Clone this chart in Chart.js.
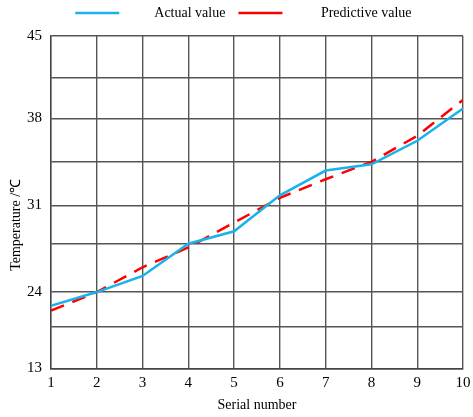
<!DOCTYPE html>
<html>
<head>
<meta charset="utf-8">
<script src="https://cdn.jsdelivr.net/npm/chart.js@4"></script>
<style>
  html, body { margin: 0; padding: 0; background: #fff; }
  #wrap { width: 473px; height: 417px; }
</style>
</head>
<body>
<div id="wrap"><canvas id="myChart"></canvas></div>
<script>
// values
const serial = [1, 2, 3, 4, 5, 6, 7, 8, 9, 10];
const actual = [22.9, 24.0, 25.3, 27.9, 28.9, 31.8, 33.8, 34.3, 36.2, 38.8];
const predicted = [22.5, 24.0, 26.0, 27.6, 29.6, 31.6, 33.1, 34.5, 36.6, 39.5];

// the original axis is not evenly spaced: gridlines and the labels printed on them
const yGrid = [17.86, 21.2, 24, 27.9, 31, 34.5, 38, 41.3, 44.65];
const yLabels = ['13', '', '24', '', '31', '', '38', '', '45'];

const serif = 'Liberation Serif, Times New Roman, serif';
const gridColor = '#555';

// leave some room under the legend
const legendGap = {
  id: 'legendGap',
  beforeInit(chart) {
    const fit = chart.legend.fit;
    chart.legend.fit = function () {
      fit.bind(chart.legend)();
      this.height += 6;
    };
  }
};

window.addEventListener('load', setup);

function setup() {
  const ctx = document.getElementById('myChart').getContext('2d');
  new Chart(ctx, {
    type: 'line',
    data: {
      datasets: [
        {
          label: 'Actual value',
          data: serial.map((s, i) => ({ x: s, y: actual[i] })),
          borderColor: '#19b2ea',
          backgroundColor: '#19b2ea',
          borderWidth: 2.5,
          pointRadius: 0,
          fill: false,
          tension: 0
        },
        {
          label: 'Predictive value',
          data: serial.map((s, i) => ({ x: s, y: predicted[i] })),
          borderColor: '#ff0000',
          backgroundColor: '#ff0000',
          borderWidth: 2.5,
          borderDash: [14, 9],
          pointRadius: 0,
          fill: false,
          tension: 0
        }
      ]
    },
    plugins: [legendGap],
    options: {
      responsive: true,
      maintainAspectRatio: false,
      animation: false,
      layout: { padding: { left: 0, right: 10, top: 0, bottom: 0 } },
      plugins: {
        tooltip: { enabled: false },
        legend: {
          position: 'top',
          align: 'end',
          labels: {
            usePointStyle: true,
            pointStyle: 'line',
            pointStyleWidth: 44,
            padding: 6,
            color: '#000',
            font: { family: serif, size: 14 },
            generateLabels(chart) {
              const items = Chart.defaults.plugins.legend.labels.generateLabels(chart);
              const before = ['        ', '         '];
              const after = ['  ', '             '];
              items.forEach((it, i) => { it.text = before[i] + it.text + after[i]; });
              return items;
            }
          }
        }
      },
      scales: {
        x: {
          type: 'linear',
          min: 1,
          max: 10,
          afterFit(scale) {
            scale.paddingLeft = 0;
            scale.paddingRight = 0;
          },
          ticks: {
            stepSize: 1,
            color: '#000',
            padding: 7,
            font: { family: serif, size: 15, lineHeight: 1 }
          },
          grid: { color: gridColor, lineWidth: 1.4, drawTicks: false },
          border: { color: '#444', width: 1.4 },
          title: {
            display: true,
            text: 'Serial number',
            color: '#000',
            font: { family: serif, size: 14 },
            padding: { top: 0, bottom: 3 }
          }
        },
        y: {
          type: 'linear',
          min: yGrid[0],
          max: yGrid[yGrid.length - 1],
          afterBuildTicks(scale) {
            scale.ticks = yGrid.map(v => ({ value: v }));
          },
          afterFit(scale) {
            scale.width = 51;
          },
          ticks: {
            color: '#000',
            padding: 9,
            font: { family: serif, size: 15 },
            callback(value, index) { return yLabels[index]; }
          },
          grid: { color: gridColor, lineWidth: 1.4, drawTicks: false },
          border: { color: '#444', width: 1.4 },
          title: {
            display: true,
            // trailing spaces push the words a little below the middle, as in the original
            text: 'Temperature /℃             ',
            color: '#000',
            font: { family: serif, size: 14 },
            padding: { top: 8, bottom: 0 }
          }
        }
      }
    }
  });
}
</script>
</body>
</html>
